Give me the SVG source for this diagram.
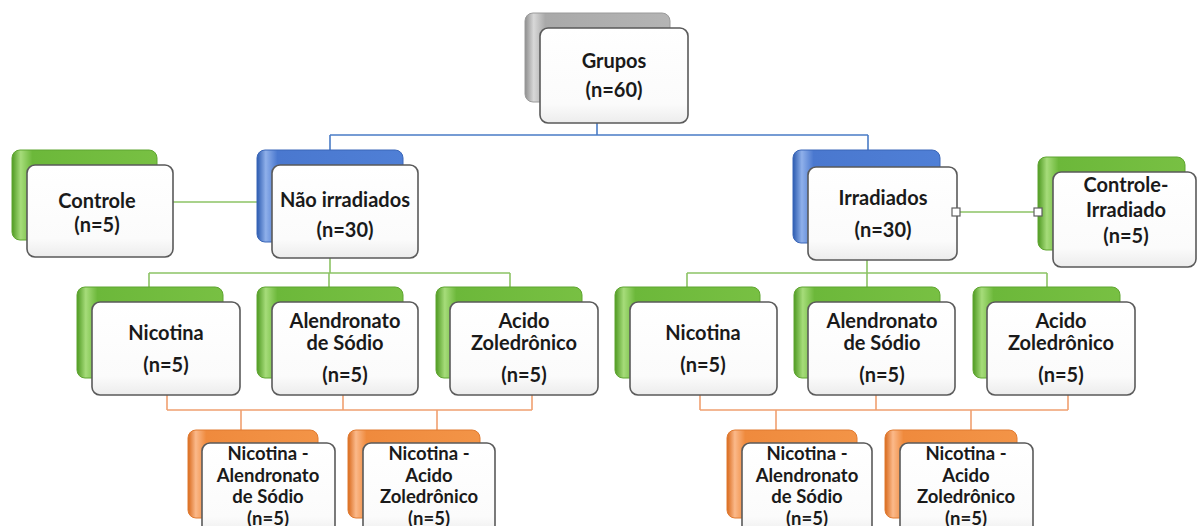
<svg xmlns="http://www.w3.org/2000/svg" width="1197" height="526" viewBox="0 0 1197 526">
<defs>
<linearGradient id="gGray" x1="0" y1="0" x2="1" y2="0">
<stop offset="0" stop-color="#8e8e8e"/><stop offset="0.06" stop-color="#d8d8d8"/><stop offset="0.14" stop-color="#a9a9a9"/><stop offset="1" stop-color="#b4b4b4"/>
</linearGradient>
<linearGradient id="gGreen" x1="0" y1="0" x2="1" y2="0">
<stop offset="0" stop-color="#4f9a22"/><stop offset="0.06" stop-color="#a6dc7a"/><stop offset="0.14" stop-color="#6cb83a"/><stop offset="1" stop-color="#78c043"/>
</linearGradient>
<linearGradient id="gBlue" x1="0" y1="0" x2="1" y2="0">
<stop offset="0" stop-color="#2c5bb0"/><stop offset="0.06" stop-color="#8fb0ea"/><stop offset="0.14" stop-color="#4a78cf"/><stop offset="1" stop-color="#4f7fd6"/>
</linearGradient>
<linearGradient id="gOrange" x1="0" y1="0" x2="1" y2="0">
<stop offset="0" stop-color="#d8691c"/><stop offset="0.06" stop-color="#fbb98a"/><stop offset="0.14" stop-color="#ef8a3d"/><stop offset="1" stop-color="#f39447"/>
</linearGradient>
<linearGradient id="gFront" x1="0" y1="0" x2="0" y2="1">
<stop offset="0" stop-color="#ffffff"/><stop offset="0.8" stop-color="#fbfbfb"/><stop offset="1" stop-color="#ececec"/>
</linearGradient>
<style>
.front{fill:url(#gFront);stroke:#5a5a5a;stroke-width:1.6}
.gray{fill:url(#gGray);stroke:#9a9a9a;stroke-width:1}
.green{fill:url(#gGreen);stroke:#5fa530;stroke-width:1}
.blue{fill:url(#gBlue);stroke:#3a66b8;stroke-width:1}
.orange{fill:url(#gOrange);stroke:#e07a30;stroke-width:1}
text{font-family:Lato,"Liberation Sans",sans-serif;font-weight:bold;font-size:20px;fill:#1a1a1a;text-anchor:middle}
text.s{font-size:18.5px}
.cb{stroke:#4a7cc6;stroke-width:1.6;fill:none}
.cg{stroke:#8cc365;stroke-width:1.6;fill:none}
.co{stroke:#f0a070;stroke-width:1.6;fill:none}
.hd{fill:#ffffff;stroke:#606060;stroke-width:1.2}
</style>
</defs>
<rect width="1197" height="526" fill="#ffffff"/>

<g id="connectors">
<path class="cb" d="M597 123V135M330 135H868M330 135V150M868 135V150"/>
<path class="cg" d="M173 202H257"/>
<path class="cg" d="M957 212H1038"/>
<path class="cg" d="M330 258V273M149 273H510M149 273V287M329 273V287M510 273V287"/>
<path class="cg" d="M867 260V273M687 273H1047M687 273V287M867 273V287M1047 273V287"/>
<path class="co" d="M167 395V410M343 395V410M532 395V410M167 410H532M241 410V430M437 410V430"/>
<path class="co" d="M700 395V410M876 395V410M1068 395V410M700 410H1068M776 410V430M971 410V430"/>
</g>

<g id="grupos">
<rect class="gray" x="525" y="13" width="145" height="89" rx="8"/>
<rect class="front" x="540" y="28" width="148" height="95" rx="8"/>
<text x="614" y="68">Grupos</text>
<text x="614" y="97">(n=60)</text>
</g>

<g id="controle">
<rect class="green" x="12" y="150" width="145" height="90" rx="8"/>
<rect class="front" x="27" y="165" width="146" height="92" rx="8"/>
<text x="97" y="208">Controle</text>
<text x="97" y="232">(n=5)</text>
</g>

<g id="nao-irradiados">
<rect class="blue" x="257" y="150" width="146" height="92" rx="8"/>
<rect class="front" x="272" y="165" width="146" height="93" rx="8"/>
<text x="345" y="207">Não irradiados</text>
<text x="345" y="237">(n=30)</text>
</g>

<g id="irradiados">
<rect class="blue" x="793" y="150" width="147" height="93" rx="8"/>
<rect class="front" x="808" y="167" width="149" height="93" rx="8"/>
<text x="883" y="205">Irradiados</text>
<text x="883" y="237">(n=30)</text>
<rect class="hd" x="952" y="208" width="8" height="8"/>
</g>

<g id="controle-irradiado">
<rect class="green" x="1038" y="157" width="147" height="93" rx="8"/>
<rect class="front" x="1053" y="172" width="143" height="95" rx="8"/>
<text x="1126" y="192">Controle-</text>
<text x="1126" y="217">Irradiado</text>
<text x="1126" y="243">(n=5)</text>
<rect class="hd" x="1034" y="208" width="8" height="8"/>
</g>

<g id="nicotina-l">
<rect class="green" x="77" y="287" width="146" height="91" rx="8"/>
<rect class="front" x="92" y="302" width="148" height="93" rx="8"/>
<text x="166" y="340">Nicotina</text>
<text x="166" y="372">(n=5)</text>
</g>

<g id="alendronato-l">
<rect class="green" x="257" y="287" width="146" height="91" rx="8"/>
<rect class="front" x="272" y="302" width="146" height="93" rx="8"/>
<text x="345" y="328">Alendronato</text>
<text x="345" y="350">de Sódio</text>
<text x="345" y="382">(n=5)</text>
</g>

<g id="acido-l">
<rect class="green" x="436" y="287" width="146" height="91" rx="8"/>
<rect class="front" x="450" y="302" width="148" height="93" rx="8"/>
<text x="524" y="328">Acido</text>
<text x="524" y="350">Zoledrônico</text>
<text x="524" y="382">(n=5)</text>
</g>

<g id="nicotina-r">
<rect class="green" x="615" y="287" width="145" height="91" rx="8"/>
<rect class="front" x="630" y="302" width="147" height="93" rx="8"/>
<text x="703" y="340">Nicotina</text>
<text x="703" y="372">(n=5)</text>
</g>

<g id="alendronato-r">
<rect class="green" x="794" y="287" width="146" height="91" rx="8"/>
<rect class="front" x="808" y="302" width="147" height="93" rx="8"/>
<text x="882" y="328">Alendronato</text>
<text x="882" y="350">de Sódio</text>
<text x="882" y="382">(n=5)</text>
</g>

<g id="acido-r">
<rect class="green" x="973" y="287" width="147" height="91" rx="8"/>
<rect class="front" x="987" y="302" width="148" height="93" rx="8"/>
<text x="1061" y="328">Acido</text>
<text x="1061" y="350">Zoledrônico</text>
<text x="1061" y="382">(n=5)</text>
</g>

<g id="nic-alen-l">
<rect class="orange" x="188" y="430" width="130" height="88" rx="8"/>
<rect class="front" x="202" y="443" width="133" height="92" rx="8"/>
<text class="s" x="268" y="460">Nicotina -</text>
<text class="s" x="268" y="482">Alendronato</text>
<text class="s" x="268" y="503">de Sódio</text>
<text class="s" x="268" y="525">(n=5)</text>
</g>

<g id="nic-acido-l">
<rect class="orange" x="348" y="430" width="132" height="88" rx="8"/>
<rect class="front" x="363" y="443" width="132" height="92" rx="8"/>
<text class="s" x="429" y="460">Nicotina -</text>
<text class="s" x="429" y="482">Acido</text>
<text class="s" x="429" y="503">Zoledrônico</text>
<text class="s" x="429" y="525">(n=5)</text>
</g>

<g id="nic-alen-r">
<rect class="orange" x="727" y="430" width="130" height="88" rx="8"/>
<rect class="front" x="742" y="443" width="130" height="92" rx="8"/>
<text class="s" x="807" y="460">Nicotina -</text>
<text class="s" x="807" y="482">Alendronato</text>
<text class="s" x="807" y="503">de Sódio</text>
<text class="s" x="807" y="525">(n=5)</text>
</g>

<g id="nic-acido-r">
<rect class="orange" x="885" y="430" width="132" height="88" rx="8"/>
<rect class="front" x="900" y="443" width="133" height="92" rx="8"/>
<text class="s" x="966" y="460">Nicotina -</text>
<text class="s" x="966" y="482">Acido</text>
<text class="s" x="966" y="503">Zoledrônico</text>
<text class="s" x="966" y="525">(n=5)</text>
</g>
</svg>
